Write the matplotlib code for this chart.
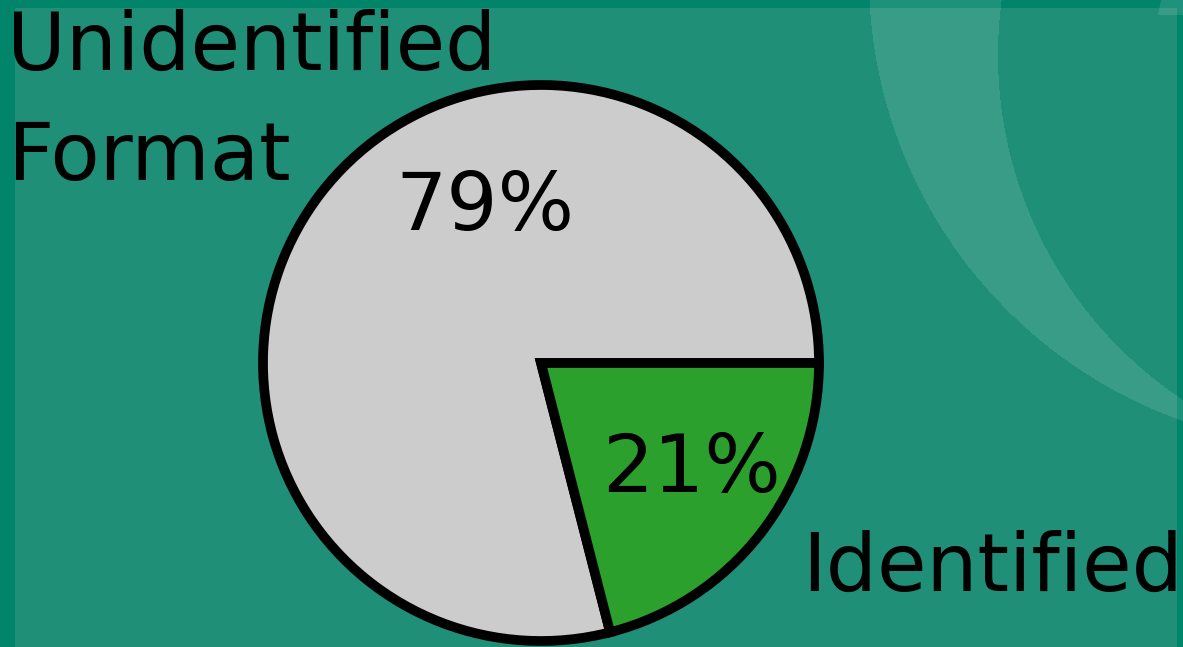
import numpy as np
import matplotlib
matplotlib.use('Agg')
import matplotlib.pyplot as plt
from matplotlib.patches import Rectangle, Polygon

# data
labels = ['Unidentified\nFormat', 'Identified']
shares = [79, 21]
colors = ['#cccccc', '#2ca02c']

W, H = 1183, 647
border = '#00846a'
inner = '#1f8f78'

fig = plt.figure(figsize=(W/100, H/100), dpi=100)
fig.patch.set_facecolor(border)

# background panel in pixel coords (origin top-left)
bg = fig.add_axes([0, 0, 1, 1])
bg.set_xlim(0, W)
bg.set_ylim(H, 0)
bg.axis('off')
bg.add_patch(Rectangle((15, 8), 1177-15, H-8, facecolor=inner, edgecolor='none'))

# light crescent decoration top right
yy, xx = np.mgrid[0:H, 0:W] + 0.5
d_out = np.hypot(xx-1340, yy+23)
d_in = np.hypot(xx-1412, yy-55)
mask = (d_out < 471) & (d_in > 414)
img = np.zeros((H, W, 4))
img[..., :3] = 1.0
img[..., 3] = mask*0.12
bg.imshow(img, extent=(0, W, H, 0), interpolation='antialiased', zorder=2)
bg.add_patch(Polygon([(1161, 0), (W, 0), (W, 15), (1158, 15)], closed=True,
                     facecolor='white', alpha=0.12, edgecolor='none', zorder=2))
bg.set_xlim(0, W)
bg.set_ylim(H, 0)

# pie
R = 278
cx, cy = 541, H-363
ax = fig.add_axes([(cx-R)/W, (cy-R)/H, 2*R/W, 2*R/H])
wedges, texts, autotexts = ax.pie(shares, labels=labels, colors=colors, startangle=0,
                                  autopct='%d%%',
                                  wedgeprops=dict(edgecolor='black', linewidth=7, clip_on=False),
                                  textprops=dict(fontsize=58, color='black'))
ax.set_xlim(-1, 1)
ax.set_ylim(-1, 1)
ax.axis('off')

# label placement (baseline of last line)
texts[0].set_position((-1.921, 0.658))
texts[0].set_ha('left')
texts[0].set_va('baseline')
texts[0].set_linespacing(1.52)
texts[1].set_position((0.939, -0.820))
texts[1].set_ha('left')
texts[1].set_va('baseline')
autotexts[0].set_position((-0.201, 0.478))
autotexts[0].set_ha('center')
autotexts[0].set_va('baseline')
autotexts[1].set_position((0.540, -0.464))
autotexts[1].set_ha('center')
autotexts[1].set_va('baseline')

fig.savefig('out.png', dpi=100, facecolor=fig.get_facecolor())
